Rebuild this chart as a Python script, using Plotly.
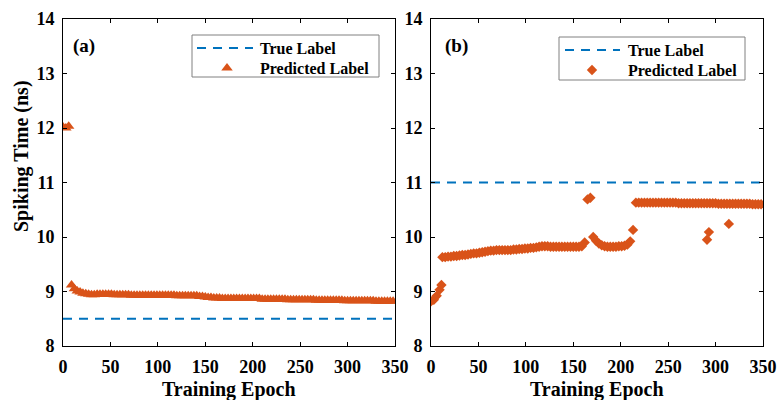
import plotly.graph_objects as go

# ---------------- data ----------------
EPOCH_STEP = 3  # predicted labels sampled every 3 epochs (0..348)

pred_a = [12.02, 12.00, 12.03, 9.12, 9.05, 9.01, 8.99, 8.97, 8.96, 8.95, 8.94, 8.94, 8.95, 8.95, 8.95,
          8.95, 8.95, 8.95, 8.94, 8.94, 8.94, 8.94, 8.94, 8.94, 8.93, 8.93, 8.93, 8.93, 8.93, 8.93, 8.93, 8.93, 8.93, 8.93,
          8.93, 8.93, 8.93, 8.93, 8.93, 8.93, 8.92, 8.92, 8.92, 8.92, 8.92, 8.92, 8.92, 8.92, 8.91, 8.91,
          8.90, 8.89, 8.89, 8.88, 8.88, 8.88, 8.87, 8.87, 8.87, 8.87, 8.87, 8.87, 8.87, 8.87, 8.87, 8.87, 8.87,
          8.87, 8.87, 8.87, 8.86, 8.86, 8.86, 8.86, 8.86, 8.86, 8.86, 8.86, 8.86, 8.85, 8.85, 8.85, 8.85, 8.85,
          8.85, 8.85, 8.85, 8.85, 8.85, 8.84, 8.84, 8.84, 8.84, 8.84, 8.84, 8.84, 8.84, 8.84, 8.84, 8.83, 8.83,
          8.83, 8.83, 8.83, 8.83, 8.83, 8.83, 8.83, 8.83, 8.83, 8.82, 8.82, 8.82, 8.82, 8.82, 8.82, 8.82]

pred_b = [8.82, 8.85, 8.92, 9.03,
          9.63,
          9.63, 9.64, 9.64, 9.65, 9.65, 9.66, 9.67, 9.67, 9.68, 9.69, 9.70, 9.70, 9.71,
          9.72, 9.73, 9.74, 9.75, 9.75, 9.76, 9.76, 9.76, 9.76, 9.76, 9.76, 9.77, 9.77, 9.78, 9.78, 9.79,
          9.79, 9.80, 9.80, 9.81, 9.82, 9.83, 9.83, 9.83, 9.82, 9.82, 9.82, 9.82, 9.82, 9.82, 9.82, 9.82,
          9.82, 9.82, 9.82, 9.83,
          9.90,
          10.69, 10.72,
          10.00, 9.93, 9.88, 9.85, 9.83, 9.82, 9.82, 9.82, 9.82, 9.83, 9.83, 9.84, 9.86, 9.92, 10.13,
          10.63, 10.63, 10.63, 10.63, 10.63, 10.63, 10.63, 10.63, 10.63, 10.63, 10.63, 10.63, 10.63, 10.63, 10.63,
          10.62, 10.62, 10.62, 10.62, 10.62, 10.62, 10.62, 10.62, 10.62, 10.62, 10.62, 10.62, 10.62, 10.62,
          10.61, 10.61, 10.61, 10.61, 10.61, 10.61, 10.61, 10.61, 10.61, 10.61, 10.61, 10.61, 10.60, 10.60, 10.60, 10.60]

# isolated extra predictions in panel (b)
extra_b_epochs = [11, 291, 293, 314]
extra_b_values = [9.12, 9.95, 10.09, 10.24]

true_a = 8.5
true_b = 11.0
x_range = [0, 350]
x_ticks = [0, 50, 100, 150, 200, 250, 300, 350]
y_ticks = [8, 9, 10, 11, 12, 13, 14]
legend_labels = ["True Label", "Predicted Label"]
panel_labels = ["(a)", "(b)"]
x_title = "Training Epoch"
y_title = "Spiking Time (ns)"

epochs_a = list(range(0, EPOCH_STEP * len(pred_a), EPOCH_STEP))
epochs_b = list(range(0, EPOCH_STEP * len(pred_b), EPOCH_STEP))

# ---------------- style ----------------
ORANGE = "#D95319"
BLUE = "#0072BD"
FONT = "Liberation Serif"
W, H = 779, 400
DASH = "9px,7px"

fig = go.Figure()

fig.add_trace(go.Scatter(x=x_range, y=[true_a, true_a], mode="lines", showlegend=False,
                         line=dict(color=BLUE, width=2, dash=DASH), xaxis="x", yaxis="y"))
fig.add_trace(go.Scatter(x=epochs_a, y=pred_a, mode="markers", showlegend=False,
                         marker=dict(symbol="triangle-up", size=10, color=ORANGE, line=dict(width=0)),
                         xaxis="x", yaxis="y"))

fig.add_trace(go.Scatter(x=x_range, y=[true_b, true_b], mode="lines", showlegend=False,
                         line=dict(color=BLUE, width=2, dash=DASH), xaxis="x2", yaxis="y2"))
fig.add_trace(go.Scatter(x=epochs_b, y=pred_b, mode="markers", showlegend=False,
                         marker=dict(symbol="diamond", size=8, color=ORANGE, line=dict(width=0)),
                         xaxis="x2", yaxis="y2"))
fig.add_trace(go.Scatter(x=extra_b_epochs, y=extra_b_values, mode="markers", showlegend=False,
                         marker=dict(symbol="diamond", size=8, color=ORANGE, line=dict(width=0)),
                         xaxis="x2", yaxis="y2"))

# ---------------- hand-built legends and titles (pixel overlay axis x3/y3) ----------------
legends = [
    dict(box=(192, 35, 379, 77), dash=(197, 253, 48), text_x=258, rows=(48, 68), sym=(227, 68),
         symbol="triangle-up", size=10),
    dict(box=(559, 37, 745, 80), dash=(565, 620, 50), text_x=626, rows=(50, 70), sym=(592, 70),
         symbol="diamond", size=8),
]
shapes = []
annotations = []
for lg in legends:
    x0, y0, x1, y1 = lg["box"]
    shapes.append(dict(type="rect", xref="x3", yref="y3", x0=x0, y0=y0, x1=x1, y1=y1,
                       line=dict(color="#808080", width=1), fillcolor="white", layer="below"))
    dx0, dx1, dy = lg["dash"]
    shapes.append(dict(type="line", xref="x3", yref="y3", x0=dx0, x1=dx1, y0=dy, y1=dy,
                       line=dict(color=BLUE, width=2, dash=DASH), layer="above"))
    for lab, ry in zip(legend_labels, lg["rows"]):
        annotations.append(dict(text=f"<b>{lab}</b>", x=lg["text_x"], y=ry, xref="x3", yref="y3",
                                xanchor="left", yanchor="middle", showarrow=False,
                                font=dict(family=FONT, size=16, color="black")))
    fig.add_trace(go.Scatter(x=[lg["sym"][0]], y=[lg["sym"][1]], mode="markers", showlegend=False,
                             marker=dict(symbol=lg["symbol"], size=lg["size"], color=ORANGE,
                                         line=dict(width=0)),
                             xaxis="x3", yaxis="y3", hoverinfo="skip"))

for lab, px in zip(panel_labels, (71, 443)):
    annotations.append(dict(text=f"<b>{lab}</b>", x=px, y=46, xref="x3", yref="y3",
                            xanchor="left", yanchor="middle", showarrow=False,
                            font=dict(family=FONT, size=19, color="black")))

for cx in (229, 597):
    annotations.append(dict(text=f"<b>{x_title}</b>", x=cx, y=389, xref="x3", yref="y3",
                            xanchor="center", yanchor="middle", showarrow=False,
                            font=dict(family=FONT, size=20, color="black")))
annotations.append(dict(text=f"<b>{y_title}</b>", x=21, y=156, xref="x3", yref="y3",
                        xanchor="center", yanchor="middle", showarrow=False, textangle=-90,
                        font=dict(family=FONT, size=20, color="black")))

ax_common = dict(showline=True, linecolor="black", linewidth=1, mirror="allticks",
                 ticks="inside", ticklen=4, tickcolor="black", showgrid=False, zeroline=False,
                 automargin=False,
                 tickfont=dict(family=FONT, size=18, color="black"))

xa = dict(ax_common, range=[0, 350], tickvals=x_ticks, ticklabelstandoff=4,
          ticktext=[f"<b>{v}</b>" for v in x_ticks])
ya = dict(ax_common, range=[8, 14], tickvals=y_ticks, ticklabelstandoff=4,
          ticktext=[f"<b>{v}</b>" for v in y_ticks])

fig.update_layout(
    width=W, height=H,
    margin=dict(l=0, r=0, t=0, b=0, autoexpand=False),
    paper_bgcolor="white", plot_bgcolor="rgba(0,0,0,0)",
    font=dict(family=FONT, color="black"),
    xaxis=dict(xa, domain=[63 / W, 395 / W], anchor="y"),
    yaxis=dict(ya, domain=[(H - 346) / H, (H - 19) / H], anchor="x"),
    xaxis2=dict(xa, domain=[431 / W, 763 / W], anchor="y2"),
    yaxis2=dict(ya, domain=[(H - 346) / H, (H - 19) / H], anchor="x2"),
    xaxis3=dict(domain=[0, 1], range=[0, W], visible=False, fixedrange=True, anchor="y3"),
    yaxis3=dict(domain=[0, 1], range=[H, 0], visible=False, fixedrange=True, anchor="x3"),
    showlegend=False,
    shapes=shapes,
    annotations=annotations,
)

fig.write_html("out.html")
